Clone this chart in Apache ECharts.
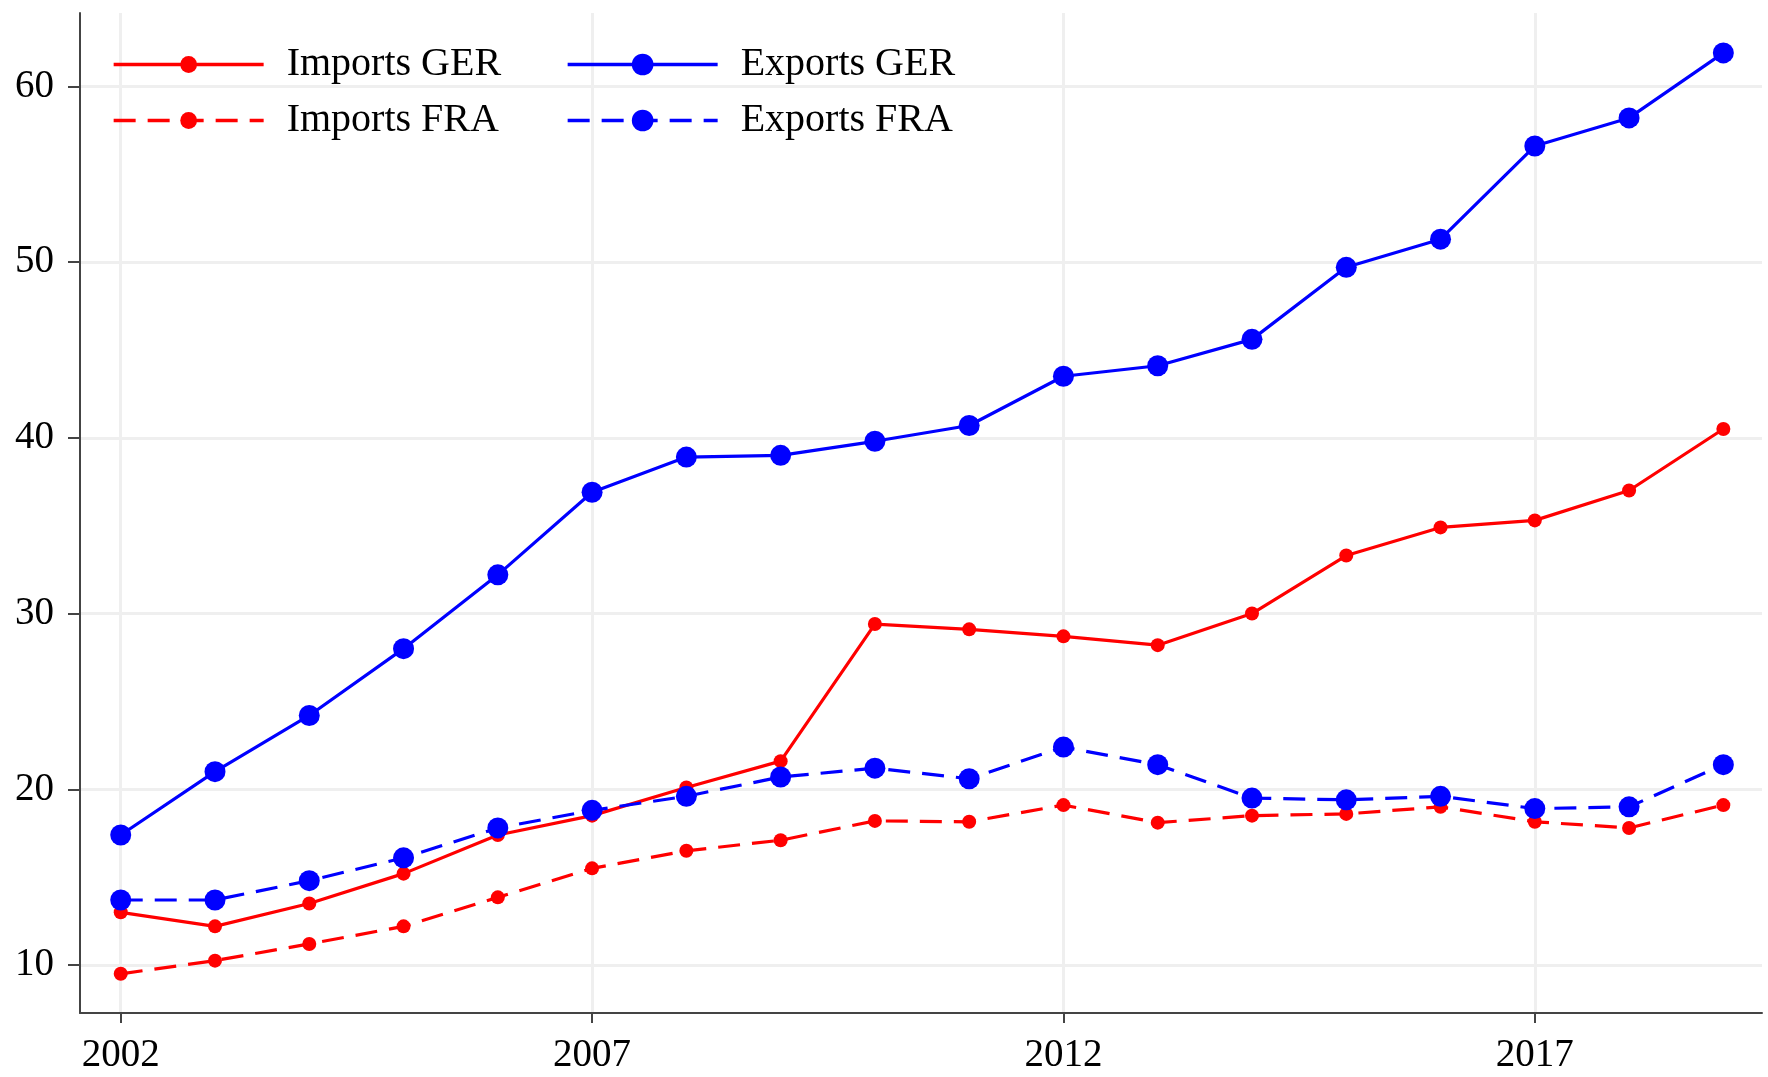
<!DOCTYPE html>
<html><head><meta charset="utf-8">
<script src="https://cdn.jsdelivr.net/npm/echarts@6/dist/echarts.min.js"></script>
<style>html,body{margin:0;padding:0;background:#fff}#c{width:1768px;height:1077px}</style>
</head><body><div id="c"></div>
<script>
const years = [2002,2003,2004,2005,2006,2007,2008,2009,2010,2011,2012,2013,2014,2015,2016,2017,2018,2019];
const importsGER = [13.0,12.2,13.5,15.2,17.4,18.5,20.1,21.6,29.4,29.1,28.7,28.2,30.0,33.3,34.9,35.3,37.0,40.5];
const importsFRA = [9.5,10.25,11.2,12.2,13.85,15.5,16.5,17.1,18.2,18.15,19.1,18.1,18.5,18.6,19.0,18.15,17.8,19.1];
const exportsGER = [17.4,21.0,24.2,28.0,32.2,36.9,38.9,39.0,39.8,40.7,43.5,44.1,45.6,49.7,51.3,56.6,58.2,61.9];
const exportsFRA = [13.7,13.7,14.8,16.1,17.8,18.8,19.6,20.7,21.2,20.6,22.4,21.4,19.5,19.4,19.6,18.9,19.0,21.4];
const xTicks = [2002,2007,2012,2017];
const yTicks = [10,20,30,40,50,60];

const FONT = "'Liberation Serif','Times New Roman',serif";
const RED = '#ff0000', BLUE = '#0000ff';
const DASH = [22,12];
const pairs = arr => years.map((y,i)=>[y,arr[i]]);

function mkSeries(name, arr, color, dashed, size){
  return {
    name, type:'line', data:pairs(arr), symbol:'circle', symbolSize:size,
    itemStyle:{color}, lineStyle:{color, width:3.2, type: dashed ? DASH : 'solid'},
    emphasis:{disabled:true}, animation:false
  };
}
function mkLegend(name, left, top, h, dashed){
  return {
    data:[name], left, top, orient:'horizontal', padding:0,
    itemWidth:150, itemHeight:h, itemGap:0, selectedMode:false,
    lineStyle:{width:3.3, type: dashed ? DASH : 'solid'},
    textStyle:{fontFamily:FONT, fontSize:40, color:'#000', padding:[0,0,0,18]}
  };
}
const chart = echarts.init(document.getElementById('c'), null, {renderer:'canvas'});
chart.setOption({
  backgroundColor:'#fff',
  animation:false,
  grid:{left:80, right:6, top:13, bottom:64, containLabel:false},
  legend:[
    mkLegend('Imports GER',112,44.5,21,false),
    mkLegend('Exports GER',566,44.5,27,false),
    mkLegend('Imports FRA',112,100.5,21,true),
    mkLegend('Exports FRA',566,100.5,27,true)
  ],
  xAxis:{
    type:'value', min:2001.568, max:2019.41,
    axisLine:{show:true, onZero:false, lineStyle:{color:'#444', width:2}},
    axisTick:{show:true, customValues:xTicks, length:10, lineStyle:{color:'#444', width:2}},
    axisLabel:{customValues:xTicks, fontFamily:FONT, fontSize:39, color:'#000', margin:23, formatter:v=>String(v)},
    splitLine:{show:true, lineStyle:{color:'#efefef', width:3}}
  },
  yAxis:{
    type:'value', min:7.27, max:64.17,
    axisLine:{show:true, onZero:false, lineStyle:{color:'#444', width:2}},
    axisTick:{show:true, customValues:yTicks, length:12, lineStyle:{color:'#444', width:2}},
    axisLabel:{customValues:yTicks, fontFamily:FONT, fontSize:39, color:'#000', margin:26, formatter:v=>String(v)},
    splitLine:{show:true, lineStyle:{color:'#efefef', width:3}}
  },
  series:[
    mkSeries('Imports GER', importsGER, RED, false, 14),
    mkSeries('Imports FRA', importsFRA, RED, true, 14),
    mkSeries('Exports GER', exportsGER, BLUE, false, 21),
    mkSeries('Exports FRA', exportsFRA, BLUE, true, 21)
  ]
});
</script></body></html>
